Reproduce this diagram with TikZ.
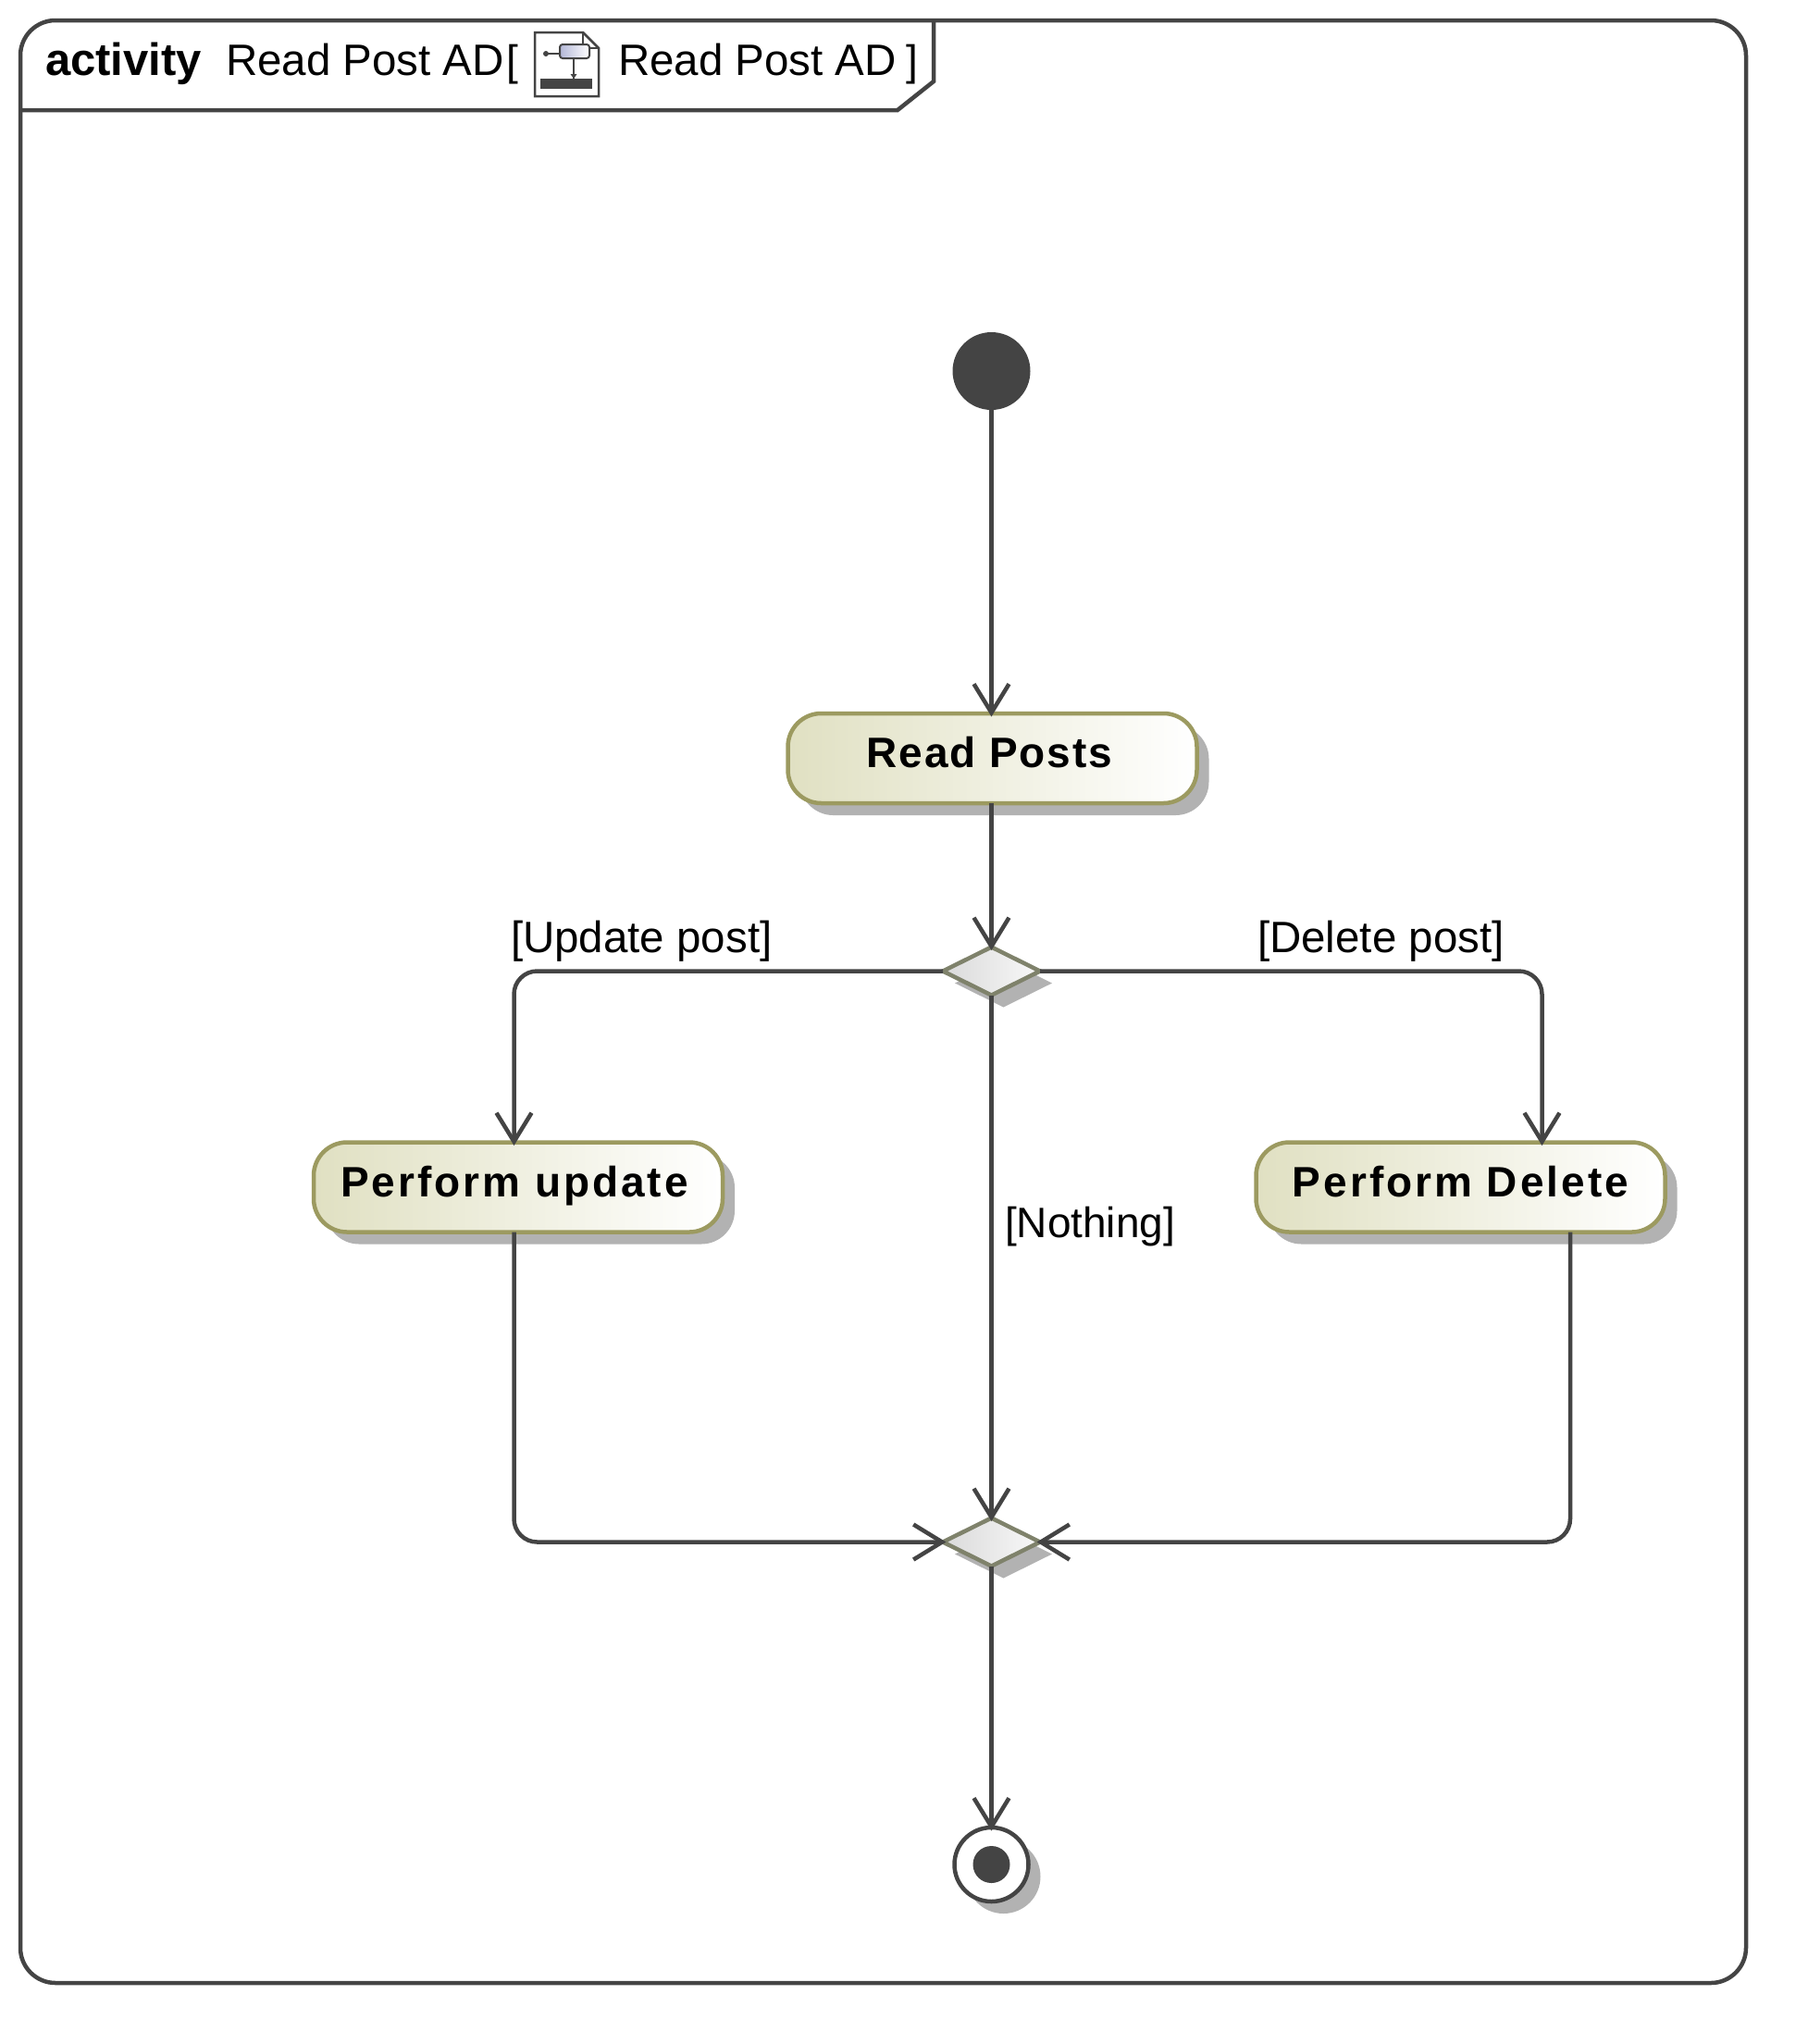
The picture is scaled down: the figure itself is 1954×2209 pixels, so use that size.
\documentclass[tikz,border=0pt]{standalone}
\usepackage{fontspec}
\setmainfont{Liberation Sans}
\newfontfamily\boxfont[LetterSpace=6.5]{Liberation Sans}
\newfontfamily\boxfontb[LetterSpace=4]{Liberation Sans}
\usetikzlibrary{shapes.geometric,shadows,arrows.meta}
\definecolor{inkline}{HTML}{444444}
\definecolor{boxedge}{HTML}{9C9A60}
\definecolor{boxleft}{HTML}{E0E0C2}
\definecolor{dmdedge}{HTML}{7F826B}
\definecolor{dmdleft}{HTML}{DADADA}
\definecolor{dmdright}{HTML}{F8F8F8}
\definecolor{shadowgray}{HTML}{B2B2B2}
\definecolor{iconblue}{HTML}{B4B8D8}
\tikzset{
  lab/.style={anchor=base west,inner sep=0pt,outer sep=0pt,font=\fontsize{46pt}{50pt}\selectfont,text=black},
  labw/.style={lab,font=\fontsize{47.5pt}{50pt}\selectfont},
  soft/.style={drop shadow={shadow xshift=13pt,shadow yshift=-13pt,opacity=1,fill=shadowgray}},
  actionbox/.style={rectangle,rounded corners=36pt,draw=boxedge,line width=4.5pt,left color=boxleft,right color=white,
    minimum width=442pt,minimum height=97pt,inner sep=0pt,outer sep=0pt,text height=33pt,text depth=13pt,
    font=\boxfont\bfseries\fontsize{46pt}{50pt}\selectfont,soft},
  decide/.style={diamond,draw=dmdedge,line width=4.5pt,left color=dmdleft,right color=dmdright,
    minimum width=105pt,minimum height=52pt,inner sep=0pt,outer sep=0pt,soft},
  conn/.style={draw=inkline,line width=4.5pt,rounded corners=25pt},
  flow/.style={conn,shorten >=-3.5pt,-{Straight Barb[length=31pt,width=38pt,line width=4.5pt]}},
}
\begin{document}
\begin{tikzpicture}[x=1pt,y=-1pt]
\useasboundingbox (0,0) rectangle (1954,2209);
% frame
\draw[inkline,line width=4.5pt,rounded corners=38pt] (22,22) rectangle (1887,2143);
\draw[inkline,line width=4.5pt,line join=miter] (22,119) -- (970,119) -- (1009,88) -- (1009,22);
% header
\node[lab,font=\bfseries\fontsize{49pt}{50pt}\selectfont] (kind) at (49,81) {activity};
\node[labw] (title) at (244,81) {Read Post AD};
\node[lab] (opnb) at (547,81) {[};
\node[labw] (title2) at (668,81) {Read Post AD};
\node[lab] (clbr) at (979,81) {]};
% icon
\draw[inkline,line width=2.5pt,fill=white,line join=miter] (578,35) -- (630,35) -- (647,52) -- (647,104) -- (578,104) -- cycle;
\draw[inkline,line width=2pt] (630,35) -- (630,52) -- (647,52);
\draw[inkline,line width=2pt] (590,58) -- (605,58);
\fill[inkline] (590,58) circle (3pt);
\draw[inkline,line width=2pt,left color=iconblue,right color=white,rounded corners=3pt] (605,48) rectangle (637,63);
\draw[inkline,line width=1.5pt] (620,63) -- (620,85);
\fill[inkline] (616.5,80) -- (623.5,80) -- (620,85) -- cycle;
\fill[inkline] (584,85) rectangle (640,96);
% nodes
\node[circle,fill=inkline,minimum size=84pt,inner sep=0pt,outer sep=0pt] (start) at (1071.5,401) {};
\node[actionbox,font=\boxfontb\bfseries\fontsize{46pt}{50pt}\selectfont] (read) at (1072.5,819.5) {\hspace*{-6pt}Read Posts};
\node[decide] (split) at (1071.5,1049.5) {};
\node[actionbox] (upd) at (560,1283) {\hspace*{-8pt}Perform update};
\node[actionbox] (del) at (1578.5,1283) {Perform Delete};
\node[decide] (merge) at (1071.5,1666.5) {};
\node[circle,draw=inkline,line width=4.5pt,fill=white,minimum size=80pt,inner sep=0pt,outer sep=0pt,soft] (stop) at (1071.5,2015) {};
\node[circle,fill=inkline,minimum size=40pt,inner sep=0pt,outer sep=0pt] (stopdot) at (stop.center) {};
% connectors
\draw[flow] (start.south) -- ([xshift=-1pt]read.north);
\draw[flow] ([xshift=-1pt]read.south) -- (split.north);
\draw[flow] (split.west) -| ([xshift=-4.5pt]upd.north);
\draw[flow] (split.east) -| ([xshift=88pt]del.north);
\draw[flow] (split.south) -- (merge.north);
\draw[flow] ([xshift=-4.5pt]upd.south) |- (merge.west);
\draw[flow] ([xshift=118.5pt]del.south) |- (merge.east);
\draw[flow] (merge.south) -- (stop.north);
% guards
\node[labw] (gupd) at (552,1029) {[Update post]};
\node[labw] (gdel) at (1359,1029) {[Delete post]};
\node[lab] (gnot) at (1086,1337) {[Nothing]};
\end{tikzpicture}
\end{document}
